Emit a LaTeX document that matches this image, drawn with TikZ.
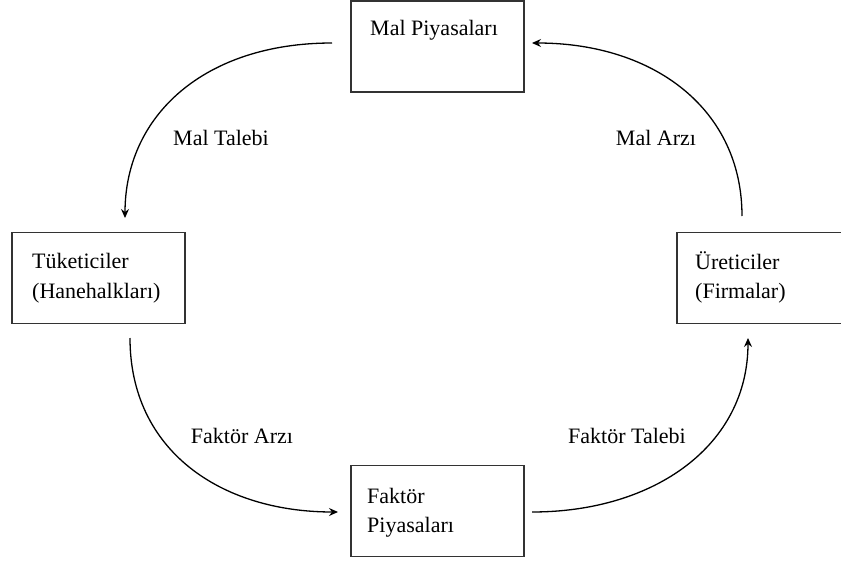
\documentclass[tikz,border=0pt]{standalone}
\usepackage{fontspec}
\setmainfont{Liberation Serif}
\usetikzlibrary{arrows.meta}
\begin{document}
\begin{tikzpicture}[x=1pt,y=-1pt,
  boxst/.style={draw=black!80,line width=1.3pt,minimum width=173pt,minimum height=91pt,inner sep=0pt},
  txt/.style={font=\fontsize{22}{30}\selectfont,inner sep=0pt,anchor=base west},
  lbl/.style={font=\fontsize{22}{30}\selectfont,inner sep=0pt},
  flow/.style={line width=1.3pt,-{Stealth[length=9pt,width=8pt,inset=3pt]}}]
\useasboundingbox (0,0) rectangle (841,562);
% boxes
\node[boxst] (mp) at (437.5,46.5) {};
\node[boxst] (tk) at (98.5,278) {};
\node[boxst] (ur) at (763.5,278) {};
\node[boxst] (fp) at (437.5,511) {};
% box texts
\node[txt] (mpt) at (370,35) {Mal Piyasaları};
\node[txt] (tk1) at (32,268) {Tüketiciler};
\node[txt] (tk2) at (32,298) {(Hanehalkları)};
\node[txt] (ur1) at (695,269) {Üreticiler};
\node[txt] (ur2) at (695,298) {(Firmalar)};
\node[txt] (fp1) at (367,503) {Faktör};
\node[txt] (fp2) at (367,532) {Piyasaları};
% endpoints
\coordinate (a1) at (332,43);
\coordinate (b1) at (125,218);
\coordinate (a2) at (130,338);
\coordinate (b2) at (338,512);
\coordinate (a3) at (532,512);
\coordinate (b3) at (748,338);
\coordinate (a4) at (742,216);
\coordinate (b4) at (532,43);
% arrows
\draw[flow] (a1) .. controls (205,43) and (125,115) .. (b1);
\draw[flow] (a2) .. controls (130,450) and (220,512) .. (b2);
\draw[flow] (a3) .. controls (655,512) and (748,445) .. (b3);
\draw[flow] (a4) .. controls (742,110) and (655,43) .. (b4);
% labels
\node[lbl] (l1) at (221,138) {Mal Talebi};
\node[lbl] (l4) at (656,138) {Mal Arzı};
\node[lbl] (l2) at (242,436) {Faktör Arzı};
\node[lbl] (l3) at (627,436) {Faktör Talebi};
\end{tikzpicture}
\end{document}
